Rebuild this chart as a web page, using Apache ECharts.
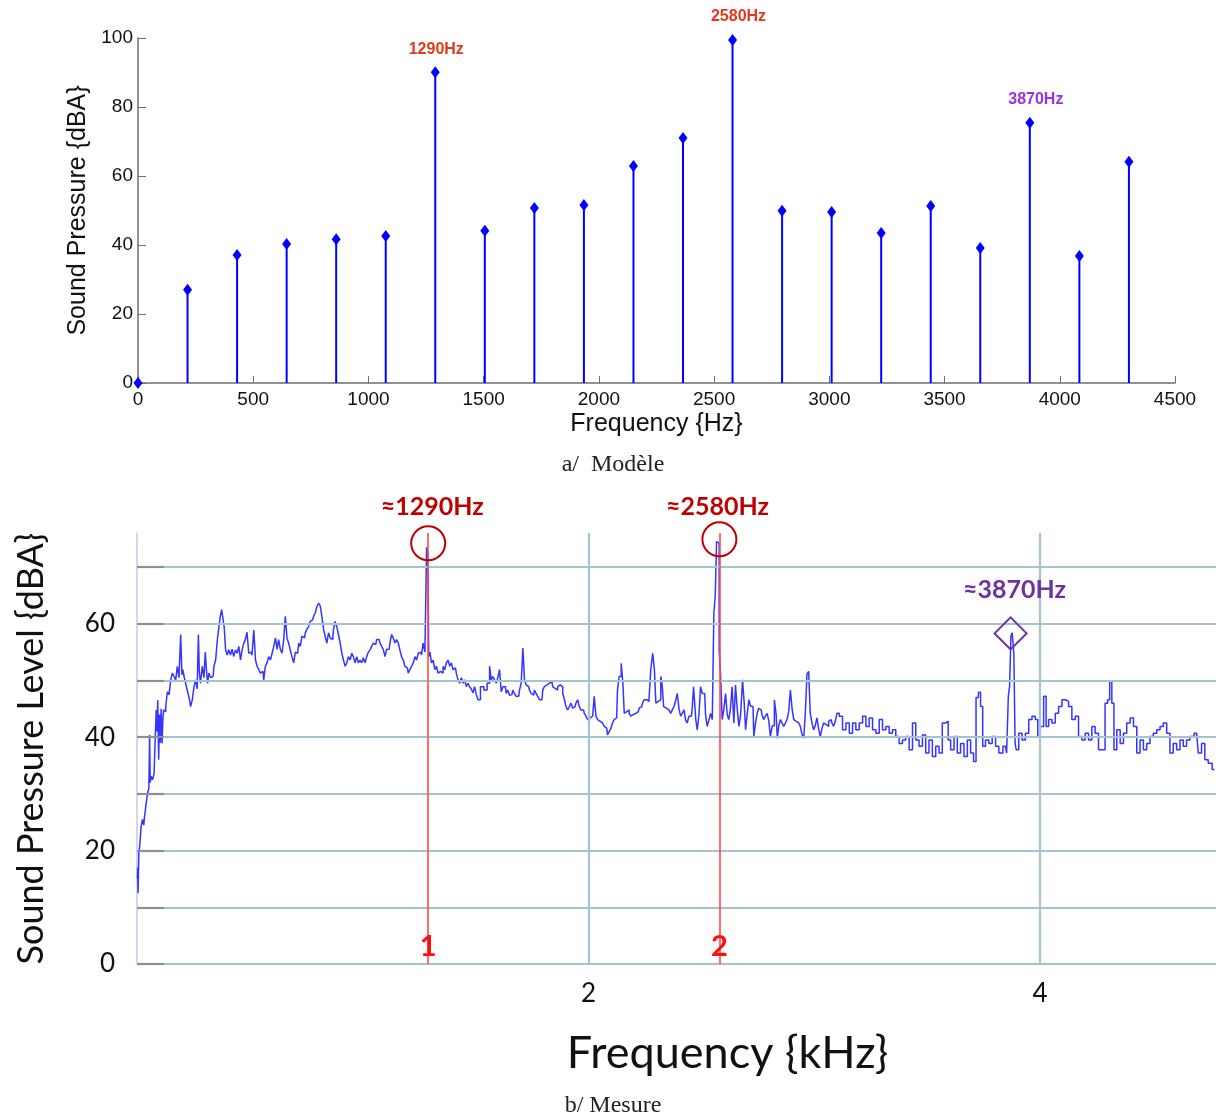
<!DOCTYPE html>
<html><head><meta charset="utf-8">
<script src="https://cdn.jsdelivr.net/npm/echarts@6/dist/echarts.min.js"></script>
<style>html,body{margin:0;padding:0;background:#fff}#c{width:1219px;height:1117px}</style>
</head><body><div id="c"></div>
<script>
// ---------- a/ Modèle ----------
const modelFreqs = [0,215,430,645,860,1075,1290,1505,1720,1935,2150,2365,2580,2795,3010,3225,3440,3655,3870,4085,4300];
const modelLevels = [0,27,37.1,40.3,41.7,42.6,90.1,44.1,50.7,51.6,62.9,71,99.4,49.9,49.6,43.5,51.3,39.1,75.4,36.8,64.1];
const modelPeakFreqs = [1290,2580,3870];
const modelPeakLabels = ['1290Hz','2580Hz','3870Hz'];
const modelPeakColors = ['#e2391c','#e2391c','#9b30e6'];

// ---------- b/ Mesure ----------
const measFreqs = [
0.002,0.004,0.006,0.010,0.015,0.021,0.028,0.032,0.035,0.043,0.050,0.055,0.057,0.060,0.065,0.072,0.079,0.083,0.087,0.090,
0.094,0.098,0.101,0.105,0.109,0.113,0.116,0.120,0.124,0.131,0.138,0.146,0.153,0.160,0.168,0.175,0.182,0.190,0.197,0.201,
0.205,0.212,0.219,0.227,0.234,0.241,0.249,0.256,0.263,0.270,0.274,0.278,0.285,0.293,0.300,0.305,0.310,0.315,0.322,0.330,
0.337,0.345,0.352,0.360,0.366,0.372,0.378,0.383,0.389,0.396,0.403,0.410,0.418,0.425,0.432,0.440,0.447,0.455,0.462,0.469,
0.476,0.484,0.491,0.499,0.506,0.513,0.522,0.528,0.536,0.543,0.550,0.558,0.565,0.572,0.580,0.587,0.595,0.602,0.610,0.617,
0.624,0.631,0.639,0.646,0.653,0.661,0.668,0.675,0.683,0.690,0.698,0.705,0.712,0.720,0.727,0.734,0.742,0.749,0.756,0.764,
0.771,0.778,0.786,0.793,0.800,0.808,0.815,0.823,0.830,0.837,0.845,0.852,0.860,0.867,0.874,0.881,0.889,0.896,0.904,0.911,
0.918,0.926,0.933,0.940,0.948,0.955,0.962,0.970,0.977,0.984,0.992,0.999,1.006,1.014,1.021,1.029,1.036,1.043,1.051,1.058,
1.065,1.073,1.080,1.088,1.095,1.102,1.110,1.117,1.124,1.132,1.139,1.146,1.154,1.161,1.168,1.176,1.183,1.191,1.198,1.205,
1.213,1.220,1.228,1.235,1.242,1.250,1.257,1.264,1.271,1.280,1.286,1.291,1.294,1.301,1.308,1.316,1.323,1.330,1.338,1.345,
1.352,1.360,1.367,1.374,1.382,1.389,1.396,1.404,1.411,1.418,1.426,1.433,1.441,1.448,1.455,1.463,1.470,1.477,1.485,1.492,
1.499,1.507,1.514,1.529,1.544,1.558,1.566,1.573,1.580,1.588,1.595,1.602,1.610,1.617,1.625,1.632,1.639,1.646,1.654,1.661,
1.668,1.676,1.683,1.691,1.698,1.706,1.713,1.720,1.728,1.735,1.742,1.750,1.757,1.764,1.772,1.779,1.786,1.794,1.801,1.808,
1.816,1.823,1.830,1.838,1.845,1.852,1.860,1.867,1.875,1.882,1.890,1.897,1.904,1.912,1.919,1.926,1.934,1.941,1.948,1.956,
1.963,1.970,1.978,1.985,1.993,2.000,2.007,2.015,2.022,2.029,2.037,2.044,2.052,2.059,2.066,2.074,2.081,2.088,2.096,2.103,
2.110,2.118,2.125,2.132,2.140,2.150,2.155,2.162,2.170,2.177,2.184,2.191,2.199,2.206,2.214,2.221,2.228,2.236,2.243,2.250,
2.258,2.265,2.272,2.280,2.289,2.295,2.302,2.310,2.317,2.324,2.330,2.336,2.345,2.353,2.360,2.368,2.375,2.383,2.390,2.397,
2.405,2.412,2.420,2.427,2.434,2.441,2.449,2.456,2.463,2.468,2.473,2.478,2.486,2.493,2.500,2.508,2.515,2.522,2.530,2.537,
2.545,2.552,2.559,2.564,2.571,2.577,2.581,2.589,2.596,2.604,2.611,2.618,2.625,2.633,2.640,2.648,2.655,2.663,2.670,2.678,
2.687,2.693,2.699,2.707,2.714,2.722,2.729,2.736,2.744,2.751,2.758,2.765,2.772,2.780,2.787,2.795,2.802,2.810,2.818,2.829,
2.834,2.839,2.847,2.854,2.861,2.869,2.876,2.883,2.891,2.898,2.906,2.913,2.920,2.928,2.935,2.942,2.950,2.957,2.964,2.972,
2.979,2.986,2.994,3.001,3.008,3.016,3.023,3.031,3.038,3.045,3.053,3.060,3.068,3.075,3.082,3.090,3.097,3.104,3.118,3.133,
3.148,3.163,3.177,3.192,3.207,3.222,3.236,3.251,3.266,3.281,3.295,3.310,3.325,3.339,3.354,3.369,3.384,3.398,3.413,3.428,
3.443,3.457,3.472,3.487,3.501,3.516,3.531,3.546,3.560,3.575,3.590,3.597,3.612,3.627,3.641,3.656,3.671,3.686,3.700,3.712,
3.722,3.733,3.741,3.752,3.766,3.781,3.796,3.811,3.825,3.847,3.858,3.862,3.869,3.874,3.880,3.889,3.891,3.899,3.913,3.928,
3.943,3.958,3.972,3.987,3.994,4.009,4.024,4.031,4.046,4.061,4.075,4.090,4.105,4.120,4.134,4.149,4.164,4.178,4.193,4.208,
4.223,4.237,4.252,4.267,4.281,4.296,4.304,4.314,4.323,4.333,4.348,4.363,4.377,4.392,4.407,4.422,4.436,4.451,4.466,4.480,
4.495,4.510,4.525,4.539,4.554,4.569,4.583,4.598,4.613,4.628,4.642,4.657,4.672,4.694,4.709,4.723,4.738,4.753,4.773
];
const measLevels = [
15,17,12.5,19.5,21,24.2,25.5,24.5,26,27.8,30.1,31,40.4,32,33.1,32.5,33.5,40,44.8,41,
46.5,36,44,39,45,38.9,43,44.8,44.5,45.4,48,47.5,50.1,51.3,50.7,50.1,52.5,50.5,58.1,51,
51.9,50.7,49.5,48.2,47,45.4,46.6,48.9,50.1,48.5,58.1,51.5,49.5,52.5,50.5,55,51.9,49.5,51.3,50.5,
50.7,52.5,53.6,57.2,59.5,61.3,62.5,61,59.5,55.4,54.5,55.4,54.5,55.5,54.2,55.4,54.8,56,53.6,55.4,
56.5,57.2,58.5,54.8,55,54.5,58.9,53.6,52.5,51.9,51.3,51.6,50.1,52.5,53.1,54.2,53.6,54.8,56,57.5,
55.5,57.2,55.5,54.8,57,61.3,57.5,56.6,55.4,54.2,53.1,55,54.8,56.6,56,57.8,57.5,58.4,59,59.5,
60.4,60.7,61.3,61.9,63,63.6,63.2,61.3,59,57.8,56.6,58.4,57.5,57.2,59,60.4,59.5,58.1,56.6,54.8,
53.6,52.5,53.1,54.2,53.6,54.8,54.2,53.1,54.2,53.1,53.6,53.1,54,53.1,54.2,55,55.4,56,56.6,56.3,
57.2,57.2,56.6,56,55.4,54.2,55.5,55.5,56.6,58.1,57.5,56.6,57.2,56.6,55.4,54.2,53.6,52.5,52.2,51.3,
51.9,52.5,53.1,54.2,53.6,54.8,55,54.5,56.6,55,73.5,72.5,54.2,55,53.1,53.6,51.9,52.5,51.3,51.6,
51.3,52.5,51.9,53.1,53.6,52.5,53.1,51.9,52.2,51.3,50.1,49.5,50.5,49.5,50.1,48.9,49.5,48.9,48.5,47.8,
48.9,47.5,46.6,48.9,48.3,49.5,52.5,50.1,50.7,50.1,49.5,50.5,51.9,48,48.9,48.9,47.7,48.3,47.4,47.5,
48.3,47.7,47.2,47.2,48.3,49.5,55.7,50.1,49.2,48.9,48.3,47.7,47.4,48.3,47.7,47.2,46.6,46.6,48.3,48.9,
49.2,49.5,49.2,49.8,48.9,48.6,48.3,48.9,49.2,48.9,47.7,46.6,45.4,44.8,45.4,46,45.1,45.4,46,46.6,
45.4,44.8,44.8,44.2,43.7,43.1,43.4,43.7,44,47.2,43.7,43.1,42.8,42.5,42.2,41.9,41.6,40.4,41,41.6,
42.5,43.1,43.4,48.3,50.7,53,49.5,44.2,44.5,44.8,44.2,43.7,44,44.2,44.5,44.5,45.1,45.4,46,46.6,
46.6,46.3,46.9,51.9,54.8,52,46,46.3,46.6,50.7,49,45.4,45.1,44.8,44.5,44.2,44.8,45.4,46.5,47.7,
45,43.7,44.2,44.8,43,42.5,43.7,43.7,45,48.9,46,43.1,41.3,44,48.9,47.7,47.7,44,41.9,43,
44.2,43.1,61.9,64.8,74.5,74.2,55.4,51.3,43.1,45,47.7,44,43.1,45,48.9,42.5,49.2,45,41.9,44,
50.1,46,41.3,44,46.6,45.5,45.4,40.1,42.5,44.2,45.1,44.8,44,43.1,43.7,44.2,43,40.1,42,46.6,
44,39.8,42,43.1,42.5,41.9,42.5,43.1,44.5,48.3,45,43.1,42.8,42.5,42.2,41.9,40.5,39.8,44,51.1,
51.6,44.2,42.5,41.3,42,43.4,41.5,40.1,41.5,42.5,42.2,41.9,42.8,43.1,42.5,41.9,42.8,44.2,43.7,41.3,
42.5,40.7,42.5,41.3,42.5,43.7,41.9,43.4,41.3,40.7,43.1,41.3,41.9,40.7,41.3,40.1,38.9,39.5,40.1,37.8,
42.5,39.5,38.4,40.4,37.2,39.5,36.6,38.4,37.2,42.5,42.8,39.5,37.8,40.1,37.2,38.9,36.6,39.5,37.2,35.7,
47,47.9,45.4,38.4,39.5,38.9,40.1,38.4,37.2,38.4,37.2,47.2,48.9,57.8,58.4,54.8,38.9,37.8,40.7,39.5,
40.7,43.1,43.7,43.1,40.1,41.9,47.2,41.9,43.1,42.5,44.2,45.4,46.6,46.3,45.4,43.1,43.7,40.1,39.5,40.7,
39.5,41.9,40.7,37.8,37.8,46,46.6,49.8,46,37.8,41.3,38.9,40.7,42.5,43.4,41.9,37.2,39.5,37.8,38.9,
40.1,40.7,41.3,41.9,42.5,40.7,37.2,38.9,37.8,39.5,38.4,39.5,40.1,40.7,37.2,38.9,36,35.4,34.3
];
const measGridY = [0,10,20,30,40,50,60,70];
const measLabelY = [0,20,40,60];
const measGridX = [2,4];
const measPeakKHz = [1.29,2.58,3.87];
const measPeakLevels = [74.2,74.9,58.3];
const measPeakLabels = ['≈1290Hz','≈2580Hz','≈3870Hz'];
const cursorKHz = [1.29,2.58];
const cursorLabels = ['1','2'];

const chart = echarts.init(document.getElementById('c'), null, {renderer:'canvas'});

const modelData = modelFreqs.map((f,i)=>[f, modelLevels[i]]);
const measData = measFreqs.map((f,i)=>[f, measLevels[i]]);
const Y1MAX = 76, X1MAX = 4.78;

const gridColor = '#a3c4cf';
const gridMarks = [];
measGridY.forEach(v=>{
  gridMarks.push([{coord:[0,v],lineStyle:{color:'#8e8e98',width:2.2,type:'solid'}},{coord:[0.12,v]}]);
  gridMarks.push([{coord:[0.12,v],lineStyle:{color:gridColor,width:2.2,type:'solid'}},{coord:[X1MAX,v]}]);
});
measGridX.forEach(v=>{
  gridMarks.push([{coord:[v,0],lineStyle:{color:gridColor,width:2.2,type:'solid'}},{coord:[v,Y1MAX]}]);
});

const sansA = '"Liberation Sans", Arial, sans-serif';
const sansB = 'Lato, "Open Sans", sans-serif';

const option = {
  animation:false,
  backgroundColor:'#fff',
  grid:[
    {left:138, top:38, width:1037, height:345},
    {left:137, top:533, width:1081, height:431}
  ],
  xAxis:[
    {gridIndex:0, type:'value', min:0, max:4500, interval:500,
     axisLine:{lineStyle:{color:'#6e6e6e',width:1.5}},
     axisTick:{inside:true,length:7,lineStyle:{color:'#6e6e6e'}},
     axisLabel:{fontSize:19,color:'#111',fontFamily:sansA,margin:7,formatter:v=>String(v)},
     splitLine:{show:false},
     name:'Frequency {Hz}', nameLocation:'middle', nameGap:29,
     nameTextStyle:{fontSize:25,color:'#111',fontFamily:sansA}},
    {gridIndex:1, type:'value', min:0, max:X1MAX, interval:2,
     axisLine:{show:false}, axisTick:{show:false}, splitLine:{show:false},
     axisLabel:{fontSize:26,color:'#111',fontFamily:sansB,margin:17,
       formatter:v=>measGridX.includes(v)?String(v):''},
     name:'Frequency {kHz}', nameLocation:'middle', nameGap:67,
     nameTextStyle:{fontSize:45,color:'#111',fontFamily:sansB,padding:[0,0,0,102]}}
  ],
  yAxis:[
    {gridIndex:0, type:'value', min:0, max:100, interval:20,
     axisLine:{show:true,lineStyle:{color:'#6e6e6e',width:1.5}},
     axisTick:{show:true,inside:true,length:8,lineStyle:{color:'#6e6e6e'}},
     axisLabel:{fontSize:19,color:'#111',fontFamily:sansA,margin:5},
     splitLine:{show:false},
     name:'Sound Pressure {dBA}', nameLocation:'middle', nameGap:46,
     nameTextStyle:{fontSize:25,color:'#111',fontFamily:sansA}},
    {gridIndex:1, type:'value', min:0, max:Y1MAX, interval:10,
     axisLine:{show:true,lineStyle:{color:'#c4c8f2',width:1.5}},
     axisTick:{show:false}, splitLine:{show:false},
     axisLabel:{fontSize:26,color:'#111',fontFamily:sansB,margin:22,
       formatter:v=>measLabelY.includes(v)?String(v):''},
     name:'Sound Pressure Level {dBA}', nameLocation:'middle', nameGap:88,
     nameTextStyle:{fontSize:36,color:'#111',fontFamily:sansB}}
  ],
  series:[
    {type:'bar', xAxisIndex:0, yAxisIndex:0, data:modelData, barWidth:2,
     itemStyle:{color:'#0000ff'}, silent:true},
    {type:'scatter', xAxisIndex:0, yAxisIndex:0, data:modelData, symbol:'diamond',
     symbolSize:[9,12], itemStyle:{color:'#0000ff',opacity:1}, silent:true, z:3},
    {type:'scatter', xAxisIndex:0, yAxisIndex:0, symbolSize:0, silent:true, z:4,
     itemStyle:{opacity:1},
     data:modelPeakFreqs.map((f,i)=>({
       value:[f, modelLevels[modelFreqs.indexOf(f)]],
       label:{show:true, position:'top', distance:15, offset:[i===0?1:6,0],
         formatter:modelPeakLabels[i], color:modelPeakColors[i],
         fontSize:16, fontWeight:'bold', fontFamily:sansA}
     }))},
    // grid lines of the measurement plot
    {type:'line', xAxisIndex:1, yAxisIndex:1, data:[], z:1, silent:true,
     markLine:{silent:true, symbol:'none', animation:false, label:{show:false},
       lineStyle:{type:'solid'}, data:gridMarks}},
    // measured spectrum
    {type:'line', xAxisIndex:1, yAxisIndex:1, data:measData, showSymbol:false, step:'middle',
     lineStyle:{color:'#3535ff',width:1.5}, z:3, silent:true, clip:true},
    // cursor lines
    {type:'line', xAxisIndex:1, yAxisIndex:1, data:[], z:4, silent:true,
     markLine:{silent:true, symbol:'none', animation:false, label:{show:false},
       lineStyle:{color:'#ff4a4a',width:1.6,type:'solid'},
       data:cursorKHz.map(k=>[{coord:[k,0]},{coord:[k,Y1MAX]}])}},
    // cursor numbers
    {type:'scatter', xAxisIndex:1, yAxisIndex:1, symbolSize:0, silent:true, z:5,
     itemStyle:{opacity:1},
     data:cursorKHz.map((k,i)=>({value:[k,0],
       label:{show:true, position:'top', distance:3, formatter:cursorLabels[i],
         color:'#ff1010', fontSize:29, fontWeight:'bold', fontFamily:sansB}}))},
    // peak markers
    {type:'scatter', xAxisIndex:1, yAxisIndex:1, silent:true, z:6,
     data:measPeakKHz.map((k,i)=>({
       value:[k, measPeakLevels[i]],
       symbol: i<2 ? 'circle' : 'diamond',
       symbolSize: i<2 ? 34 : 32,
       itemStyle:{color:'rgba(0,0,0,0)', borderColor: i<2 ? '#c00000' : '#7030a0', borderWidth:2, opacity:1},
       label:{show:true, position:'top', distance:[6,2,14][i], offset:[[4,0],[-2,0],[4,0]][i],
         formatter:measPeakLabels[i], color: i<2 ? '#c00000' : '#7030a0',
         fontSize:25, fontWeight:'bold', fontFamily:sansB}
     }))}
  ],
  graphic:[
    {type:'text', x:613, y:465, silent:true,
     style:{text:'a/  Modèle', align:'center', verticalAlign:'middle',
       font:'24px "Liberation Serif", "DejaVu Serif", serif', fill:'#222'}},
    {type:'text', x:613, y:1106, silent:true,
     style:{text:'b/ Mesure', align:'center', verticalAlign:'middle',
       font:'24px "Liberation Serif", "DejaVu Serif", serif', fill:'#222'}}
  ]
};
chart.setOption(option);
</script>
</body></html>
